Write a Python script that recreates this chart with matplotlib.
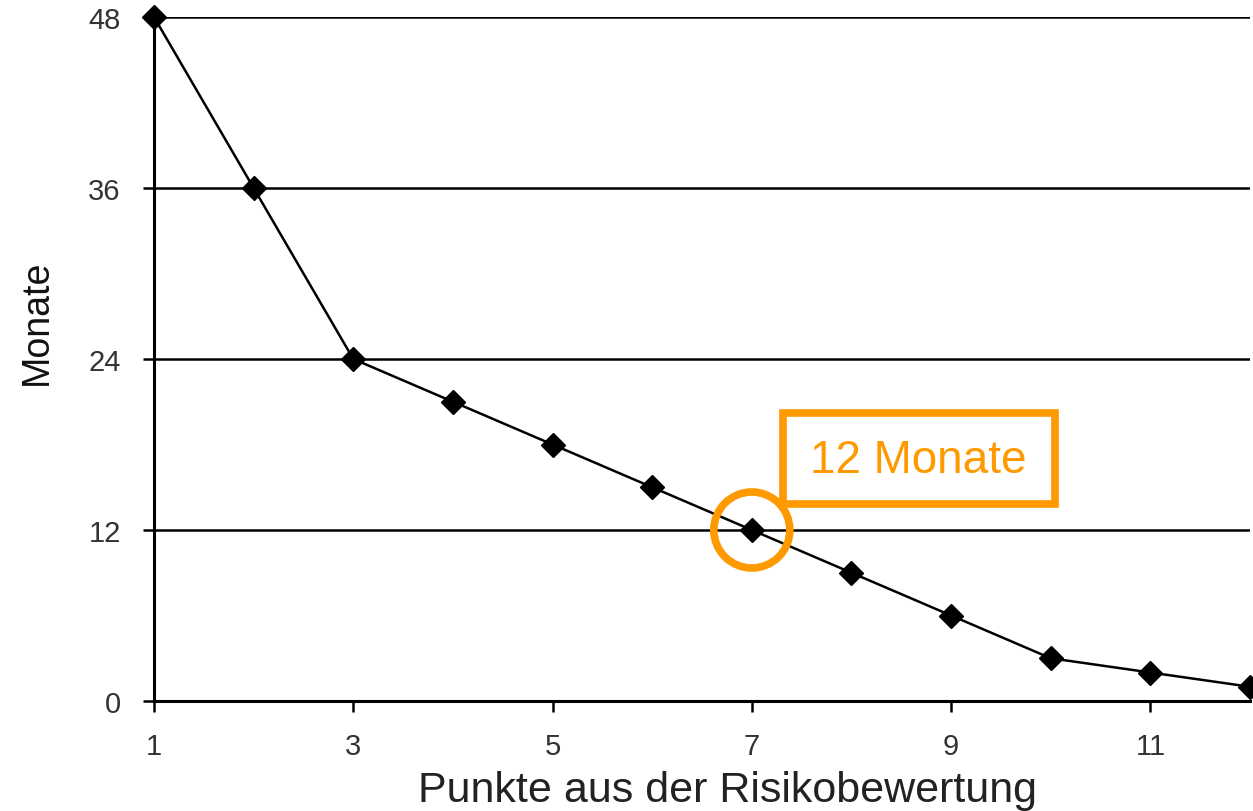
import matplotlib.pyplot as plt
from matplotlib.patches import Rectangle, Ellipse

# Risk score points vs. recommended interval in months
punkte = [1, 2, 3, 4, 5, 6, 7, 8, 9, 10, 11, 12]
monate = [48, 36, 24, 21, 18, 15, 12, 9, 6, 3, 2, 1]
x_ticks = [1, 3, 5, 7, 9, 11]
y_ticks = [0, 12, 24, 36, 48]
marked_x = 7
marked_y = 12

plt.rcParams['font.family'] = ['Liberation Sans', 'DejaVu Sans']
orange = '#ff9900'

fig = plt.figure(figsize=(12.53, 8.12), dpi=100)
ax = fig.add_axes([154 / 1253, 110 / 812, 1096 / 1253, 684 / 812])

ax.set_xlim(1, 12)
ax.set_ylim(0, 48)

for y in y_ticks[1:]:
    ax.axhline(y, color='black', lw=1.8, zorder=1)

ax.plot(punkte, monate, color='black', lw=1.8, marker='D', markersize=12,
        clip_on=False, zorder=3)

ax.set_xticks(x_ticks)
ax.set_yticks(y_ticks)
ax.tick_params(axis='both', direction='out', length=8, width=1.8,
               labelsize=21, colors='black')
ax.tick_params(axis='x', pad=14)
ax.tick_params(axis='y', pad=16)
for lab in ax.get_xticklabels() + ax.get_yticklabels():
    lab.set_color('#333333')

for side in ['top', 'right']:
    ax.spines[side].set_visible(False)
for side in ['left', 'bottom']:
    ax.spines[side].set_linewidth(2.2)

# axis titles
fig.text(727 / 1253, 10 / 812, 'Punkte aus der Risikobewertung', fontsize=31,
         color='#222222', ha='center', va='baseline')
fig.text(37 / 1253, (812 - 322) / 812, 'Monate', fontsize=27, rotation=90,
         color='#111111', ha='center', va='center')

# highlight for the 12-month point
ax.add_patch(Ellipse((marked_x, marked_y), width=76 / 1096 * 11,
                     height=76 / 684 * 48, fill=False, edgecolor=orange,
                     lw=5.5, zorder=4, clip_on=False))
box = Rectangle((783 / 1253, (812 - 505) / 812), 272 / 1253, 91 / 812,
                transform=fig.transFigure, fill=False, edgecolor=orange,
                lw=5.5, zorder=5)
fig.add_artist(box)
fig.text(918 / 1253, (812 - 461) / 812, '12 Monate', color=orange,
         fontsize=33, ha='center', va='center')

fig.savefig('out.png', dpi=100)
